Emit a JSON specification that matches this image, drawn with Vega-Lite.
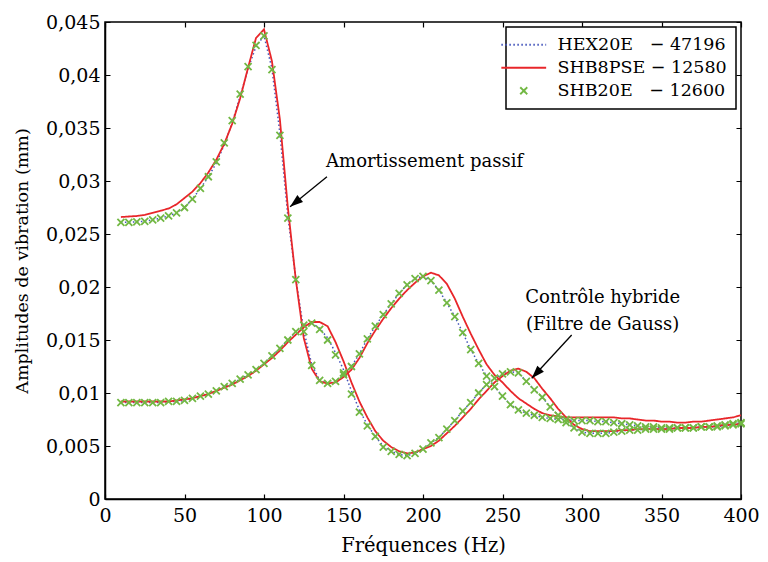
{
  "$schema": "https://vega.github.io/schema/vega-lite/v6.json",
  "width": 636,
  "height": 477,
  "autosize": "none",
  "padding": {"left": 105, "top": 22, "right": 27, "bottom": 63},
  "background": "white",
  "config": {
    "font": "DejaVu Serif",
    "view": {"stroke": "black", "strokeWidth": 1.5},
    "axis": {
      "grid": true,
      "gridColor": "black",
      "gridOpacity": 1,
      "gridWidth": 1.2,
      "ticks": false,
      "labelFlush": false,
      "domainColor": "black",
      "domainWidth": 1.5,
      "labelFont": "DejaVu Serif",
      "labelFontSize": 19,
      "labelColor": "black",
      "titleFont": "DejaVu Serif",
      "titleFontWeight": "normal",
      "titleColor": "black"
    },
    "legend": {
      "labelFont": "DejaVu Serif",
      "labelFontSize": 17.5,
      "labelColor": "black",
      "labelLimit": 0,
      "strokeColor": "black",
      "strokeWidth": 1.5,
      "fillColor": "white",
      "padding": 9,
      "rowPadding": 4,
      "symbolSize": 49,
      "symbolStrokeWidth": 2,
      "labelOffset": 25,
      "offset": 5
    }
  },
  "datasets": {
    "curves": [
      {"m":"HEX20E","f":10,"p":0.0261,"h":0.0091},
      {"m":"HEX20E","f":15,"p":0.0261,"h":0.0091},
      {"m":"HEX20E","f":20,"p":0.02615,"h":0.0091},
      {"m":"HEX20E","f":25,"p":0.0262,"h":0.0091},
      {"m":"HEX20E","f":30,"p":0.02634,"h":0.0091},
      {"m":"HEX20E","f":35,"p":0.0265,"h":0.0091},
      {"m":"HEX20E","f":40,"p":0.0267,"h":0.0092},
      {"m":"HEX20E","f":45,"p":0.027,"h":0.0092},
      {"m":"HEX20E","f":50,"p":0.0275,"h":0.0093},
      {"m":"HEX20E","f":55,"p":0.0283,"h":0.0095},
      {"m":"HEX20E","f":60,"p":0.0293,"h":0.0097},
      {"m":"HEX20E","f":65,"p":0.0304,"h":0.0099},
      {"m":"HEX20E","f":70,"p":0.0317,"h":0.0102},
      {"m":"HEX20E","f":75,"p":0.0334,"h":0.0106},
      {"m":"HEX20E","f":80,"p":0.0355,"h":0.0109},
      {"m":"HEX20E","f":85,"p":0.038,"h":0.0113},
      {"m":"HEX20E","f":90,"p":0.0406,"h":0.0117},
      {"m":"HEX20E","f":95,"p":0.0427,"h":0.0122},
      {"m":"HEX20E","f":100,"p":0.0437,"h":0.0128},
      {"m":"HEX20E","f":105,"p":0.0406,"h":0.0135},
      {"m":"HEX20E","f":110,"p":0.0345,"h":0.0142},
      {"m":"HEX20E","f":115,"p":0.0267,"h":0.015},
      {"m":"HEX20E","f":120,"p":0.0208,"h":0.0158},
      {"m":"HEX20E","f":125,"p":0.0159,"h":0.0164},
      {"m":"HEX20E","f":130,"p":0.0127,"h":0.0166},
      {"m":"HEX20E","f":135,"p":0.0112,"h":0.0161},
      {"m":"HEX20E","f":140,"p":0.0109,"h":0.0152},
      {"m":"HEX20E","f":145,"p":0.0111,"h":0.0138},
      {"m":"HEX20E","f":150,"p":0.0117,"h":0.0122},
      {"m":"HEX20E","f":155,"p":0.0125,"h":0.0102},
      {"m":"HEX20E","f":160,"p":0.0137,"h":0.0084},
      {"m":"HEX20E","f":165,"p":0.0151,"h":0.007},
      {"m":"HEX20E","f":170,"p":0.0163,"h":0.0059},
      {"m":"HEX20E","f":175,"p":0.0174,"h":0.005},
      {"m":"HEX20E","f":180,"p":0.0184,"h":0.0045},
      {"m":"HEX20E","f":185,"p":0.0194,"h":0.0042},
      {"m":"HEX20E","f":190,"p":0.0202,"h":0.0041},
      {"m":"HEX20E","f":195,"p":0.0208,"h":0.0043},
      {"m":"HEX20E","f":200,"p":0.021,"h":0.0047},
      {"m":"HEX20E","f":205,"p":0.0206,"h":0.0053},
      {"m":"HEX20E","f":210,"p":0.0197,"h":0.0058},
      {"m":"HEX20E","f":215,"p":0.0185,"h":0.0066},
      {"m":"HEX20E","f":220,"p":0.0172,"h":0.0074},
      {"m":"HEX20E","f":225,"p":0.0157,"h":0.0083},
      {"m":"HEX20E","f":230,"p":0.0141,"h":0.0091},
      {"m":"HEX20E","f":235,"p":0.0128,"h":0.01},
      {"m":"HEX20E","f":240,"p":0.0116,"h":0.0108},
      {"m":"HEX20E","f":245,"p":0.0106,"h":0.0114},
      {"m":"HEX20E","f":250,"p":0.0097,"h":0.0118},
      {"m":"HEX20E","f":255,"p":0.0089,"h":0.012},
      {"m":"HEX20E","f":260,"p":0.0084,"h":0.0119},
      {"m":"HEX20E","f":265,"p":0.0081,"h":0.0111},
      {"m":"HEX20E","f":270,"p":0.0079,"h":0.0103},
      {"m":"HEX20E","f":275,"p":0.0077,"h":0.0096},
      {"m":"HEX20E","f":280,"p":0.0076,"h":0.0087},
      {"m":"HEX20E","f":285,"p":0.0075,"h":0.0079},
      {"m":"HEX20E","f":290,"p":0.0075,"h":0.0072},
      {"m":"HEX20E","f":295,"p":0.0074,"h":0.0067},
      {"m":"HEX20E","f":300,"p":0.0074,"h":0.0063},
      {"m":"HEX20E","f":305,"p":0.0074,"h":0.0062},
      {"m":"HEX20E","f":310,"p":0.0073,"h":0.0062},
      {"m":"HEX20E","f":315,"p":0.0073,"h":0.0062},
      {"m":"HEX20E","f":320,"p":0.0072,"h":0.0063},
      {"m":"HEX20E","f":325,"p":0.0071,"h":0.0064},
      {"m":"HEX20E","f":330,"p":0.007,"h":0.0065},
      {"m":"HEX20E","f":335,"p":0.0069,"h":0.0065},
      {"m":"HEX20E","f":340,"p":0.0068,"h":0.0066},
      {"m":"HEX20E","f":345,"p":0.0068,"h":0.0066},
      {"m":"HEX20E","f":350,"p":0.0067,"h":0.0066},
      {"m":"HEX20E","f":355,"p":0.0067,"h":0.0066},
      {"m":"HEX20E","f":360,"p":0.0067,"h":0.0067},
      {"m":"HEX20E","f":365,"p":0.0067,"h":0.0067},
      {"m":"HEX20E","f":370,"p":0.0067,"h":0.0067},
      {"m":"HEX20E","f":375,"p":0.0068,"h":0.0068},
      {"m":"HEX20E","f":380,"p":0.0068,"h":0.0068},
      {"m":"HEX20E","f":385,"p":0.0069,"h":0.0068},
      {"m":"HEX20E","f":390,"p":0.007,"h":0.0069},
      {"m":"HEX20E","f":395,"p":0.0071,"h":0.007},
      {"m":"HEX20E","f":400,"p":0.0072,"h":0.0071},
      {"m":"SHB8PSE","f":10,"p":0.0266,"h":0.0092},
      {"m":"SHB8PSE","f":15,"p":0.02665,"h":0.0092},
      {"m":"SHB8PSE","f":20,"p":0.0267,"h":0.0092},
      {"m":"SHB8PSE","f":25,"p":0.0268,"h":0.0092},
      {"m":"SHB8PSE","f":30,"p":0.027,"h":0.0092},
      {"m":"SHB8PSE","f":35,"p":0.0272,"h":0.0092},
      {"m":"SHB8PSE","f":40,"p":0.0274,"h":0.0092},
      {"m":"SHB8PSE","f":45,"p":0.0278,"h":0.0093},
      {"m":"SHB8PSE","f":50,"p":0.0284,"h":0.0094},
      {"m":"SHB8PSE","f":55,"p":0.029,"h":0.0095},
      {"m":"SHB8PSE","f":60,"p":0.0298,"h":0.0097},
      {"m":"SHB8PSE","f":65,"p":0.0308,"h":0.0099},
      {"m":"SHB8PSE","f":70,"p":0.032,"h":0.0102},
      {"m":"SHB8PSE","f":75,"p":0.0335,"h":0.0105},
      {"m":"SHB8PSE","f":80,"p":0.0354,"h":0.0108},
      {"m":"SHB8PSE","f":85,"p":0.0378,"h":0.0112},
      {"m":"SHB8PSE","f":90,"p":0.0407,"h":0.0116},
      {"m":"SHB8PSE","f":95,"p":0.0435,"h":0.0121},
      {"m":"SHB8PSE","f":100,"p":0.0443,"h":0.0127},
      {"m":"SHB8PSE","f":105,"p":0.0413,"h":0.0133},
      {"m":"SHB8PSE","f":110,"p":0.0358,"h":0.014},
      {"m":"SHB8PSE","f":115,"p":0.0275,"h":0.0148},
      {"m":"SHB8PSE","f":120,"p":0.0207,"h":0.0155},
      {"m":"SHB8PSE","f":125,"p":0.0152,"h":0.0162},
      {"m":"SHB8PSE","f":130,"p":0.0123,"h":0.0167},
      {"m":"SHB8PSE","f":135,"p":0.0111,"h":0.0167},
      {"m":"SHB8PSE","f":140,"p":0.0109,"h":0.0163},
      {"m":"SHB8PSE","f":145,"p":0.011,"h":0.0148},
      {"m":"SHB8PSE","f":150,"p":0.0115,"h":0.013},
      {"m":"SHB8PSE","f":155,"p":0.0122,"h":0.011},
      {"m":"SHB8PSE","f":160,"p":0.0133,"h":0.0092},
      {"m":"SHB8PSE","f":165,"p":0.0147,"h":0.0077},
      {"m":"SHB8PSE","f":170,"p":0.0159,"h":0.0064},
      {"m":"SHB8PSE","f":175,"p":0.017,"h":0.0055},
      {"m":"SHB8PSE","f":180,"p":0.018,"h":0.0049},
      {"m":"SHB8PSE","f":185,"p":0.0189,"h":0.0045},
      {"m":"SHB8PSE","f":190,"p":0.0197,"h":0.0043},
      {"m":"SHB8PSE","f":195,"p":0.0204,"h":0.0044},
      {"m":"SHB8PSE","f":200,"p":0.021,"h":0.0047},
      {"m":"SHB8PSE","f":205,"p":0.02135,"h":0.005},
      {"m":"SHB8PSE","f":210,"p":0.0211,"h":0.0055},
      {"m":"SHB8PSE","f":215,"p":0.0203,"h":0.0062},
      {"m":"SHB8PSE","f":220,"p":0.0189,"h":0.0069},
      {"m":"SHB8PSE","f":225,"p":0.0172,"h":0.0077},
      {"m":"SHB8PSE","f":230,"p":0.0156,"h":0.0085},
      {"m":"SHB8PSE","f":235,"p":0.0141,"h":0.0094},
      {"m":"SHB8PSE","f":240,"p":0.0127,"h":0.0102},
      {"m":"SHB8PSE","f":245,"p":0.0117,"h":0.011},
      {"m":"SHB8PSE","f":250,"p":0.011,"h":0.0116},
      {"m":"SHB8PSE","f":255,"p":0.0102,"h":0.0121},
      {"m":"SHB8PSE","f":260,"p":0.0095,"h":0.0123},
      {"m":"SHB8PSE","f":265,"p":0.009,"h":0.012},
      {"m":"SHB8PSE","f":270,"p":0.0085,"h":0.0114},
      {"m":"SHB8PSE","f":275,"p":0.0081,"h":0.0104},
      {"m":"SHB8PSE","f":280,"p":0.0079,"h":0.0095},
      {"m":"SHB8PSE","f":285,"p":0.0078,"h":0.0085},
      {"m":"SHB8PSE","f":290,"p":0.0077,"h":0.0077},
      {"m":"SHB8PSE","f":295,"p":0.0077,"h":0.007},
      {"m":"SHB8PSE","f":300,"p":0.0077,"h":0.0066},
      {"m":"SHB8PSE","f":305,"p":0.0077,"h":0.0064},
      {"m":"SHB8PSE","f":310,"p":0.0077,"h":0.0064},
      {"m":"SHB8PSE","f":315,"p":0.0077,"h":0.0064},
      {"m":"SHB8PSE","f":320,"p":0.0077,"h":0.0064},
      {"m":"SHB8PSE","f":325,"p":0.0076,"h":0.0065},
      {"m":"SHB8PSE","f":330,"p":0.0076,"h":0.0065},
      {"m":"SHB8PSE","f":335,"p":0.0075,"h":0.0066},
      {"m":"SHB8PSE","f":340,"p":0.0074,"h":0.0066},
      {"m":"SHB8PSE","f":345,"p":0.0074,"h":0.0066},
      {"m":"SHB8PSE","f":350,"p":0.0073,"h":0.0066},
      {"m":"SHB8PSE","f":355,"p":0.0073,"h":0.0066},
      {"m":"SHB8PSE","f":360,"p":0.0072,"h":0.0067},
      {"m":"SHB8PSE","f":365,"p":0.0072,"h":0.0067},
      {"m":"SHB8PSE","f":370,"p":0.0073,"h":0.0067},
      {"m":"SHB8PSE","f":375,"p":0.0073,"h":0.0068},
      {"m":"SHB8PSE","f":380,"p":0.0074,"h":0.0068},
      {"m":"SHB8PSE","f":385,"p":0.0075,"h":0.0069},
      {"m":"SHB8PSE","f":390,"p":0.0076,"h":0.007},
      {"m":"SHB8PSE","f":395,"p":0.0077,"h":0.007},
      {"m":"SHB8PSE","f":400,"p":0.0079,"h":0.0071},
      {"m":"SHB20E","f":10,"p":0.0261,"h":0.0091},
      {"m":"SHB20E","f":15,"p":0.0261,"h":0.0091},
      {"m":"SHB20E","f":20,"p":0.02615,"h":0.0091},
      {"m":"SHB20E","f":25,"p":0.0262,"h":0.0091},
      {"m":"SHB20E","f":30,"p":0.02634,"h":0.0091},
      {"m":"SHB20E","f":35,"p":0.0265,"h":0.0091},
      {"m":"SHB20E","f":40,"p":0.0267,"h":0.0092},
      {"m":"SHB20E","f":45,"p":0.027,"h":0.0092},
      {"m":"SHB20E","f":50,"p":0.0275,"h":0.0093},
      {"m":"SHB20E","f":55,"p":0.0283,"h":0.0095},
      {"m":"SHB20E","f":60,"p":0.0293,"h":0.0097},
      {"m":"SHB20E","f":65,"p":0.0304,"h":0.0099},
      {"m":"SHB20E","f":70,"p":0.0318,"h":0.0102},
      {"m":"SHB20E","f":75,"p":0.0336,"h":0.0106},
      {"m":"SHB20E","f":80,"p":0.0357,"h":0.0109},
      {"m":"SHB20E","f":85,"p":0.0382,"h":0.0113},
      {"m":"SHB20E","f":90,"p":0.0408,"h":0.0117},
      {"m":"SHB20E","f":95,"p":0.0428,"h":0.0122},
      {"m":"SHB20E","f":100,"p":0.0437,"h":0.0128},
      {"m":"SHB20E","f":105,"p":0.0405,"h":0.0135},
      {"m":"SHB20E","f":110,"p":0.0343,"h":0.0142},
      {"m":"SHB20E","f":115,"p":0.0265,"h":0.015},
      {"m":"SHB20E","f":120,"p":0.0207,"h":0.0158},
      {"m":"SHB20E","f":125,"p":0.0158,"h":0.0164},
      {"m":"SHB20E","f":130,"p":0.0126,"h":0.0166},
      {"m":"SHB20E","f":135,"p":0.0112,"h":0.016},
      {"m":"SHB20E","f":140,"p":0.0109,"h":0.015},
      {"m":"SHB20E","f":145,"p":0.0111,"h":0.0136},
      {"m":"SHB20E","f":150,"p":0.0117,"h":0.0119},
      {"m":"SHB20E","f":155,"p":0.0125,"h":0.0099},
      {"m":"SHB20E","f":160,"p":0.0137,"h":0.0082},
      {"m":"SHB20E","f":165,"p":0.0151,"h":0.0069},
      {"m":"SHB20E","f":170,"p":0.0163,"h":0.0059},
      {"m":"SHB20E","f":175,"p":0.0174,"h":0.0049},
      {"m":"SHB20E","f":180,"p":0.0184,"h":0.0045},
      {"m":"SHB20E","f":185,"p":0.0194,"h":0.0042},
      {"m":"SHB20E","f":190,"p":0.0202,"h":0.0041},
      {"m":"SHB20E","f":195,"p":0.0208,"h":0.0043},
      {"m":"SHB20E","f":200,"p":0.021,"h":0.0047},
      {"m":"SHB20E","f":205,"p":0.0206,"h":0.0053},
      {"m":"SHB20E","f":210,"p":0.0197,"h":0.0058},
      {"m":"SHB20E","f":215,"p":0.0185,"h":0.0066},
      {"m":"SHB20E","f":220,"p":0.0172,"h":0.0074},
      {"m":"SHB20E","f":225,"p":0.0157,"h":0.0083},
      {"m":"SHB20E","f":230,"p":0.0141,"h":0.0091},
      {"m":"SHB20E","f":235,"p":0.0128,"h":0.01},
      {"m":"SHB20E","f":240,"p":0.0116,"h":0.0108},
      {"m":"SHB20E","f":245,"p":0.0106,"h":0.0114},
      {"m":"SHB20E","f":250,"p":0.0097,"h":0.0118},
      {"m":"SHB20E","f":255,"p":0.0089,"h":0.012},
      {"m":"SHB20E","f":260,"p":0.0084,"h":0.0119},
      {"m":"SHB20E","f":265,"p":0.0081,"h":0.0111},
      {"m":"SHB20E","f":270,"p":0.0079,"h":0.0103},
      {"m":"SHB20E","f":275,"p":0.0077,"h":0.0096},
      {"m":"SHB20E","f":280,"p":0.0076,"h":0.0087},
      {"m":"SHB20E","f":285,"p":0.0075,"h":0.0079},
      {"m":"SHB20E","f":290,"p":0.0075,"h":0.0072},
      {"m":"SHB20E","f":295,"p":0.0074,"h":0.0067},
      {"m":"SHB20E","f":300,"p":0.0074,"h":0.0063},
      {"m":"SHB20E","f":305,"p":0.0074,"h":0.0062},
      {"m":"SHB20E","f":310,"p":0.0073,"h":0.0062},
      {"m":"SHB20E","f":315,"p":0.0073,"h":0.0062},
      {"m":"SHB20E","f":320,"p":0.0072,"h":0.0063},
      {"m":"SHB20E","f":325,"p":0.0071,"h":0.0064},
      {"m":"SHB20E","f":330,"p":0.007,"h":0.0065},
      {"m":"SHB20E","f":335,"p":0.0069,"h":0.0065},
      {"m":"SHB20E","f":340,"p":0.0068,"h":0.0066},
      {"m":"SHB20E","f":345,"p":0.0068,"h":0.0066},
      {"m":"SHB20E","f":350,"p":0.0067,"h":0.0066},
      {"m":"SHB20E","f":355,"p":0.0067,"h":0.0066},
      {"m":"SHB20E","f":360,"p":0.0067,"h":0.0067},
      {"m":"SHB20E","f":365,"p":0.0067,"h":0.0067},
      {"m":"SHB20E","f":370,"p":0.0067,"h":0.0067},
      {"m":"SHB20E","f":375,"p":0.0068,"h":0.0068},
      {"m":"SHB20E","f":380,"p":0.0068,"h":0.0068},
      {"m":"SHB20E","f":385,"p":0.0069,"h":0.0068},
      {"m":"SHB20E","f":390,"p":0.007,"h":0.0069},
      {"m":"SHB20E","f":395,"p":0.0071,"h":0.007},
      {"m":"SHB20E","f":400,"p":0.0072,"h":0.0071}
    ],
    "notes": [
      {"f": 201, "v": 0.0318, "t": "Amortissement passif"},
      {"f": 313, "v": 0.0190, "t": "Contrôle hybride"},
      {"f": 313, "v": 0.01643, "t": "(Filtre de Gauss)"}
    ],
    "arrows": [
      {"id": 1, "f": 139.6, "v": 0.0304, "f2": 116.4, "v2": 0.02758},
      {"id": 2, "f": 293.5, "v": 0.01547, "f2": 268.4, "v2": 0.01139}
    ]
  },
  "layer": [
    {
      "data": {"name": "curves"},
      "transform": [
        {"filter": "datum.m == 'HEX20E'"},
        {"fold": ["p", "h"], "as": ["cfg", "amp"]}
      ],
      "mark": {"type": "line", "strokeWidth": 1.5},
      "encoding": {
        "x": {
          "field": "f", "type": "quantitative",
          "scale": {"domain": [0, 400], "nice": false},
          "axis": {"values": [0, 50, 100, 150, 200, 250, 300, 350, 400], "labelPadding": 7, "gridDash": [5, 467, 5, 1000], "titleY": 46, "titleBaseline": "middle", "titleFontSize": 19.5},
          "title": "Fréquences (Hz)"
        },
        "y": {
          "field": "amp", "type": "quantitative",
          "scale": {"domain": [0, 0.045], "nice": false, "zero": true},
          "axis": {
            "values": [0, 0.005, 0.01, 0.015, 0.02, 0.025, 0.03, 0.035, 0.04, 0.045],
            "labelExpr": "datum.value == 0 ? '0' : replace(format(datum.value, '.3~f'), '.', ',')",
            "labelPadding": 5,
            "gridDash": [5, 626, 5, 1000],
            "titleX": -83,
            "titleBaseline": "middle",
            "titleFontSize": 17.5
          },
          "title": "Amplitudes de vibration (mm)"
        },
        "detail": {"field": "cfg"},
        "color": {
          "field": "m", "type": "nominal",
          "scale": {"domain": ["HEX20E", "SHB8PSE", "SHB20E"], "range": ["#4455bb", "#e8262a", "#72b843"]},
          "legend": {
            "title": null,
            "orient": "top-right",
            "labelExpr": "datum.label == 'HEX20E' ? 'HEX20E\u00a0\u00a0\u00a0\u2212 47196' : datum.label == 'SHB8PSE' ? 'SHB8PSE \u2212 12580' : 'SHB20E\u00a0\u00a0\u00a0\u2212 12600'"
          }
        },
        "strokeDash": {
          "field": "m", "type": "nominal",
          "scale": {"domain": ["HEX20E", "SHB8PSE", "SHB20E"], "range": [[1.5, 2.5], [1, 0], [1, 0]]},
          "legend": {
            "title": null,
            "orient": "top-right",
            "labelExpr": "datum.label == 'HEX20E' ? 'HEX20E\u00a0\u00a0\u00a0\u2212 47196' : datum.label == 'SHB8PSE' ? 'SHB8PSE \u2212 12580' : 'SHB20E\u00a0\u00a0\u00a0\u2212 12600'"
          }
        }
      }
    },
    {
      "data": {"name": "curves"},
      "transform": [
        {"filter": "datum.m == 'SHB8PSE'"},
        {"fold": ["p", "h"], "as": ["cfg", "amp"]}
      ],
      "mark": {"type": "line", "strokeWidth": 1.8},
      "encoding": {
        "x": {"field": "f", "type": "quantitative"},
        "y": {"field": "amp", "type": "quantitative"},
        "detail": {"field": "cfg"},
        "color": {"field": "m", "type": "nominal"},
        "strokeDash": {"field": "m", "type": "nominal"}
      }
    },
    {
      "data": {"name": "curves"},
      "transform": [
        {"filter": "datum.m == 'SHB20E'"},
        {"fold": ["p", "h"], "as": ["cfg", "amp"]}
      ],
      "mark": {"type": "point", "filled": false, "strokeWidth": 1.8, "opacity": 1, "size": 49},
      "encoding": {
        "x": {"field": "f", "type": "quantitative"},
        "y": {"field": "amp", "type": "quantitative"},
        "color": {"field": "m", "type": "nominal"},
        "shape": {
          "field": "m", "type": "nominal",
          "scale": {"domain": ["HEX20E", "SHB8PSE", "SHB20E"], "range": ["M-6.4,0L6.4,0", "M-6.4,0L6.4,0", "M-1,-1L1,1M-1,1L1,-1"]},
          "legend": {
            "title": null,
            "orient": "top-right",
            "labelExpr": "datum.label == 'HEX20E' ? 'HEX20E\u00a0\u00a0\u00a0\u2212 47196' : datum.label == 'SHB8PSE' ? 'SHB8PSE \u2212 12580' : 'SHB20E\u00a0\u00a0\u00a0\u2212 12600'"
          }
        }
      }
    },
    {
      "data": {"name": "arrows"},
      "mark": {"type": "rule", "color": "black", "strokeWidth": 1.3},
      "encoding": {
        "x": {"field": "f", "type": "quantitative"},
        "y": {"field": "v", "type": "quantitative"},
        "x2": {"field": "f2"},
        "y2": {"field": "v2"}
      }
    },
    {
      "data": {"name": "arrows"},
      "transform": [{"filter": "datum.id == 1"}],
      "mark": {"type": "point", "shape": "M0,0L-0.45,1.3L0.45,1.3Z", "filled": true, "size": 400, "angle": 231, "color": "black", "opacity": 1},
      "encoding": {
        "x": {"field": "f2", "type": "quantitative"},
        "y": {"field": "v2", "type": "quantitative"}
      }
    },
    {
      "data": {"name": "arrows"},
      "transform": [{"filter": "datum.id == 2"}],
      "mark": {"type": "point", "shape": "M0,0L-0.45,1.3L0.45,1.3Z", "filled": true, "size": 400, "angle": 223, "color": "black", "opacity": 1},
      "encoding": {
        "x": {"field": "f2", "type": "quantitative"},
        "y": {"field": "v2", "type": "quantitative"}
      }
    },
    {
      "data": {"name": "notes"},
      "mark": {"type": "text", "font": "DejaVu Serif", "fontSize": 18, "color": "black", "align": "center", "baseline": "middle"},
      "encoding": {
        "x": {"field": "f", "type": "quantitative"},
        "y": {"field": "v", "type": "quantitative"},
        "text": {"field": "t"}
      }
    }
  ]
}
